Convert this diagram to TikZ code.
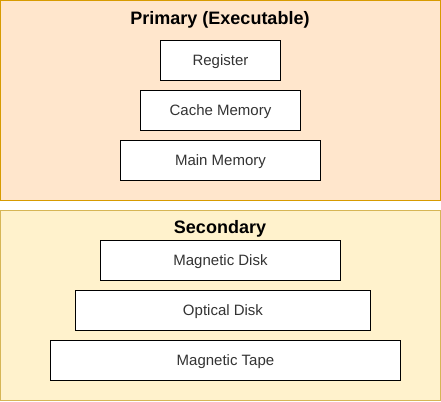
\documentclass[tikz,border=0pt]{standalone}
\usepackage{fontspec}
\setmainfont{Liberation Sans}
\definecolor{prifill}{HTML}{FFE6CC}
\definecolor{pristroke}{HTML}{D79B00}
\definecolor{secfill}{HTML}{FFF2CC}
\definecolor{secstroke}{HTML}{D6B656}
\definecolor{txt}{HTML}{333333}
\begin{document}
\begin{tikzpicture}[x=1pt,y=-1pt,
  layer/.style={line width=1pt},
  memblock/.style={draw=black,fill=white,line width=1pt,inner sep=0pt,
    text=txt,font=\fontsize{15}{18}\selectfont,text height=10.7pt,text depth=0pt},
  ttl/.style={font=\bfseries\fontsize{18}{21}\selectfont,text=black,
    inner sep=0pt,text height=12.9pt,text depth=0pt}]
\useasboundingbox (0,0) rectangle (441,401);
\draw[layer,draw=pristroke,fill=prifill] (0.5,0.5) rectangle (440.5,200.5);
\draw[layer,draw=secstroke,fill=secfill] (0.5,210.5) rectangle (440.5,400.5);
\node[ttl] (pt) at (220,18) {Primary (Executable)};
\node[ttl] (st) at (220,227) {Secondary};
\node[memblock,minimum width=120pt,minimum height=40pt] (reg) at (220.5,60.5) {Register};
\node[memblock,minimum width=160pt,minimum height=40pt] (cache) at (220.5,110.5) {Cache Memory};
\node[memblock,minimum width=200pt,minimum height=40pt] (main) at (220.5,160.5) {Main Memory};
\node[memblock,minimum width=240pt,minimum height=40pt] (mdisk) at (220.5,260.5) {Magnetic Disk};
\node[memblock,minimum width=295pt,minimum height=40pt] (odisk) at (223,310.5) {Optical Disk};
\node[memblock,minimum width=350pt,minimum height=40pt] (tape) at (225.5,360.5) {Magnetic Tape};
\end{tikzpicture}
\end{document}
